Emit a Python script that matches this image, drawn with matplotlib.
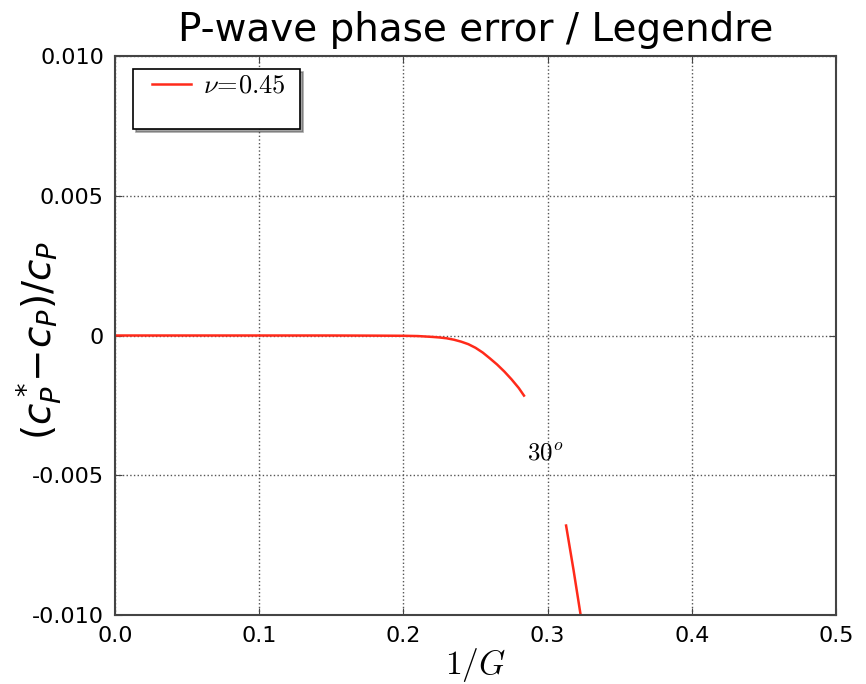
import numpy as np
import matplotlib
matplotlib.use('Agg')
import matplotlib.pyplot as plt
from matplotlib.legend_handler import HandlerLine2D

# phase error of the P wave vs 1/G (nu = 0.45, 30 degree direction)
inv_g_a = [0.0, 0.05, 0.10, 0.15, 0.18, 0.20, 0.21, 0.22, 0.225, 0.23, 0.235,
           0.24, 0.245, 0.25, 0.255, 0.26, 0.265, 0.27, 0.275, 0.28, 0.2836]
err_a = [0.0, 0.0, 0.0, 0.0, -0.000005, -0.00001, -0.00002, -0.00005, -0.00007,
         -0.0001, -0.00015, -0.00022, -0.00031, -0.00044, -0.00061, -0.00082,
         -0.00104, -0.00129, -0.00157, -0.00188, -0.00215]

inv_g_b = [0.3128, 0.318, 0.3235]
err_b = [-0.0068, -0.0084, -0.0102]

yticks = [-0.010, -0.005, 0.0, 0.005, 0.010]
ytick_labels = ['-0.010', '-0.005', '0', '0.005', '0.010']
xticks = [0.0, 0.1, 0.2, 0.3, 0.4, 0.5]

fig = plt.figure(figsize=(8.66, 6.84), dpi=100)
ax = fig.add_axes([0.1328, 0.1009, 0.8326, 0.8172])

line_a, = ax.plot(inv_g_a, err_a, color='#ff2a1a', lw=1.8,
                  label=r'$\nu\!=\!0.45$')
ax.plot(inv_g_b, err_b, color='#ff2a1a', lw=1.8)
ax.plot([], [], ' ', label=' ')

ax.set_xlim(0, 0.5)
ax.set_ylim(-0.010, 0.010)
ax.set_xticks(xticks)
ax.set_xticklabels(['%.1f' % t for t in xticks])
ax.set_yticks(yticks)
ax.set_yticklabels(ytick_labels)
ax.tick_params(direction='in', length=5, labelsize=16, pad=8,
               top=True, right=True, colors='#444444', labelcolor='black')
ax.grid(True, linestyle=':', color='#555555', lw=1.0)
for s in ax.spines.values():
    s.set_color('#444444')
    s.set_linewidth(1.5)

ax.text(0.298, -0.0042, r'$30^o$', fontsize=18, ha='center', va='center',
        math_fontfamily='cm')

ax.set_title('P-wave phase error / Legendre', fontsize=28, pad=11)
ax.set_xlabel(r'$1/G$', fontsize=24, math_fontfamily='cm', labelpad=0)
ax.set_ylabel(r'$(c_P^*\!\!-\!c_P)/c_P$', fontsize=28, va='center',
              rotation_mode='default')
ax.yaxis.set_label_coords(-0.105, 0.492)

leg = ax.legend(loc='upper left', bbox_to_anchor=(0.025, 0.5, 0.2316, 0.477),
                mode='expand', fontsize=19, handlelength=2.04,
                fancybox=False, shadow=True, borderaxespad=0,
                labelspacing=0.0, borderpad=0.15, handletextpad=0.45,
                handler_map={line_a: HandlerLine2D(xpad=0.58)})
leg.get_frame().set_edgecolor('black')
leg.get_frame().set_linewidth(1.2)
for t in leg.get_texts():
    t.set_math_fontfamily('cm')

fig.savefig('out.png', dpi=100, facecolor='white')
